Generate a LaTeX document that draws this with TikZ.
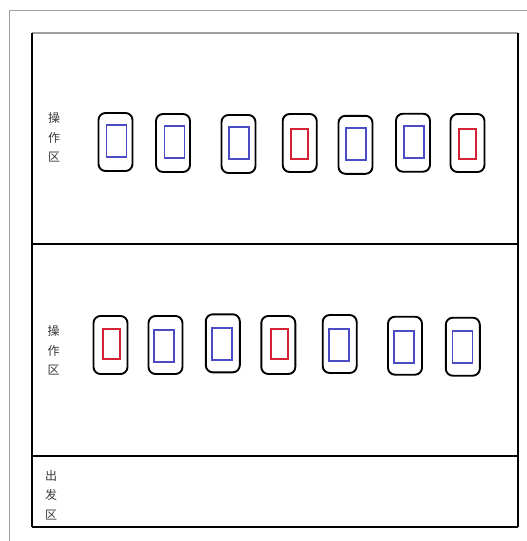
\documentclass[tikz,border=0pt]{standalone}
\usepackage{fontspec}
\newfontfamily\cjk{Noto Sans CJK SC}
\definecolor{scrblue}{RGB}{75,75,195}
\definecolor{scrred}{RGB}{210,35,55}
\definecolor{framegray}{RGB}{160,160,160}
\begin{document}
\begin{tikzpicture}[x=1pt,y=-1pt,
 phone/.style={draw=black,line width=1.9pt,rounded corners=7pt,minimum width=34pt,minimum height=58pt,inner sep=0pt},
 bscr/.style={draw=scrblue,line width=1.9pt,minimum width=20pt,minimum height=32pt,inner sep=0pt},
 rscr/.style={draw=scrred,line width=1.9pt,minimum width=17pt,minimum height=30pt,inner sep=0pt},
 zlabel/.style={font=\cjk\fontsize{12}{19.5}\selectfont,align=center,text=black!78,inner sep=0pt},
 wall/.style={draw=black,line width=2pt}]
\useasboundingbox (0,0) rectangle (527,541);
% outer gray frame
\draw[framegray,line width=1pt] (9,541) -- (9,10) -- (527,10);
% sections
\draw[framegray,line width=1.5pt] (32,33) -- (518,33);
\draw[wall] (32,33) -- (32,527);
\draw[wall] (518,33) -- (518,456);
\draw[wall] (517.5,456) -- (517.5,527);
\draw[wall] (32,244) -- (518,244);
\draw[wall] (32,456) -- (518,456);
\draw[wall] (32,527) -- (518,527);
% labels
\node[zlabel] (l1) at (54,137.5) {操\\作\\区};
\node[zlabel] (l2) at (53.5,350.5) {操\\作\\区};
\node[zlabel] (l3) at (51,495) {出\\发\\区};
% top row
\node[phone] (a1) at (115.5,142) {};
\node[phone] (a2) at (173,143) {};
\node[phone] (a3) at (238.5,144) {};
\node[phone] (a4) at (299.7,143) {};
\node[phone] (a5) at (355.5,144.8) {};
\node[phone] (a6) at (413,142.7) {};
\node[phone] (a7) at (467.5,143) {};
\node[bscr] (as1) at (116.5,140.7) {};
\node[bscr] (as2) at (174.5,141.7) {};
\node[bscr] (as3) at (239.2,142.7) {};
\node[rscr] (as4) at (299.2,143.8) {};
\node[bscr] (as5) at (356.2,143.7) {};
\node[bscr] (as6) at (414,141.7) {};
\node[rscr] (as7) at (467.7,143.8) {};
% bottom row
\node[phone] (b1) at (110.5,345) {};
\node[phone] (b2) at (165.5,345) {};
\node[phone] (b3) at (222.8,343.3) {};
\node[phone] (b4) at (278.3,345) {};
\node[phone] (b5) at (339.7,344) {};
\node[phone] (b6) at (405,345.7) {};
\node[phone] (b7) at (462.8,346.7) {};
\node[rscr] (bs1) at (111.2,344.2) {};
\node[bscr] (bs2) at (164.3,345.7) {};
\node[bscr] (bs3) at (222.2,343.8) {};
\node[rscr] (bs4) at (279.3,344.2) {};
\node[bscr] (bs5) at (339.2,345.3) {};
\node[bscr] (bs6) at (404.2,346.7) {};
\node[bscr] (bs7) at (462.5,347.3) {};
\end{tikzpicture}
\end{document}
